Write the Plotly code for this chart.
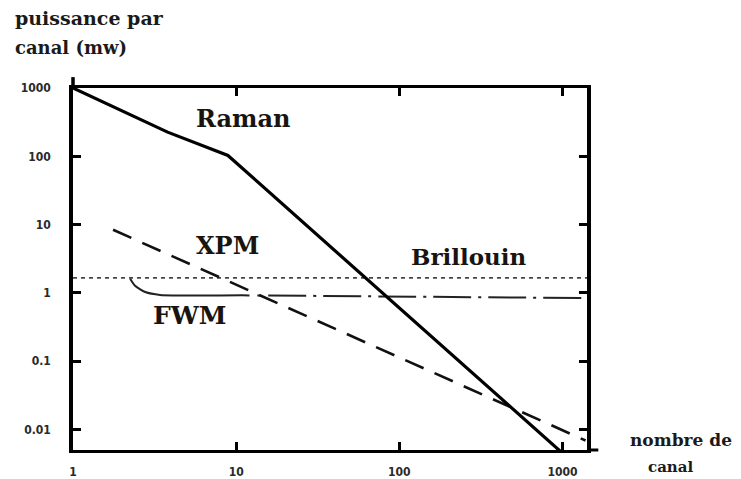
import math
import plotly.graph_objects as go

# ---- data ----
x_ticks = [1, 10, 100, 1000]
x_tick_labels = ["1", "10", "100", "1000"]
y_ticks = [0.01, 0.1, 1, 10, 100, 1000]
y_tick_labels = ["0.01", "0.1", "1", "10", "100", "1000"]

raman_x = [1, 3.8, 8.9, 970]
raman_y = [1000, 226, 103, 0.0048]

xpm_x = [1.76, 1384]
xpm_y = [8.4, 0.0069]

brillouin_x = [1, 1413]
brillouin_y = [1.66, 1.66]

fwm_x = [2.24, 2.4, 2.77, 3.42, 12.2, 1384]
fwm_y = [1.61, 1.27, 1.03, 0.935, 0.92, 0.84]

curve_labels = ["Raman", "XPM", "Brillouin", "FWM"]
curve_label_x = [11.0, 8.8, 269, 5.2]
curve_label_y = [362, 5.0, 3.4, 0.47]

y_title_lines = ["puissance par", "canal (mw)"]
x_title_lines = ["nombre de", "canal"]

# ---- styling ----
serif = "DejaVu Serif, Liberation Serif, serif"
tickfont = dict(family="DejaVu Sans Condensed, Liberation Sans Narrow, DejaVu Sans", size=12,
                color="#2a2a2a", weight="bold")

fwm_dash_parts = ["125px", "8px", "3px", "8px"] + ["38px", "7px", "3px", "7px"] * 12
fwm_dash = ",".join(fwm_dash_parts)

fig = go.Figure()

fig.add_trace(go.Scatter(x=brillouin_x, y=brillouin_y, mode="lines",
                         line=dict(color="#444444", width=1.6, dash="4px,4px"),
                         hoverinfo="skip", showlegend=False))
fig.add_trace(go.Scatter(x=fwm_x, y=fwm_y, mode="lines",
                         line=dict(color="#222222", width=2, dash=fwm_dash, shape="spline", smoothing=0.6),
                         hoverinfo="skip", showlegend=False))
fig.add_trace(go.Scatter(x=xpm_x, y=xpm_y, mode="lines",
                         line=dict(color="#111111", width=2.6, dash="20px,12px"),
                         hoverinfo="skip", showlegend=False))
fig.add_trace(go.Scatter(x=raman_x, y=raman_y, mode="lines",
                         line=dict(color="#000000", width=3.2),
                         hoverinfo="skip", showlegend=False))

# annotations on log axes take log10 positions
label_sizes = [24, 24, 23, 25]
for t, lx, ly, s in zip(curve_labels, curve_label_x, curve_label_y, label_sizes):
    fig.add_annotation(x=math.log10(lx), y=math.log10(ly), xref="x", yref="y", text=t,
                       showarrow=False, xanchor="center", yanchor="middle",
                       font=dict(family=serif, size=s, color="#1a1410", weight="bold"))

# axis titles
fig.add_annotation(x=-0.117, y=1.193, xref="paper", yref="paper", text=y_title_lines[0],
                   showarrow=False, xanchor="left", yanchor="middle",
                   font=dict(family=serif, size=19, color="#1a1a1a", weight="bold"))
fig.add_annotation(x=-0.117, y=1.113, xref="paper", yref="paper", text=y_title_lines[1],
                   showarrow=False, xanchor="left", yanchor="middle",
                   font=dict(family=serif, size=18, color="#1a1a1a", weight="bold"))
fig.add_annotation(x=1.183, y=0.028, xref="paper", yref="paper", text=x_title_lines[0],
                   showarrow=False, xanchor="center", yanchor="middle",
                   font=dict(family=serif, size=17, color="#1a1a1a", weight="bold"))
fig.add_annotation(x=1.163, y=-0.047, xref="paper", yref="paper", text=x_title_lines[1],
                   showarrow=False, xanchor="center", yanchor="middle",
                   font=dict(family=serif, size=15, color="#1a1a1a", weight="bold"))

# bottom axis extends a little past the right frame; left axis a little above the top
fig.add_shape(type="line", xref="paper", yref="paper", x0=1.0, x1=1.022, y0=0, y1=0,
              line=dict(color="black", width=3))
fig.add_shape(type="line", xref="paper", yref="paper", x0=0, x1=0, y0=1.0, y1=1.03,
              line=dict(color="black", width=3.5))

fig.update_xaxes(type="log", range=[0, 3.15], tickvals=x_ticks, ticktext=x_tick_labels,
                 ticks="inside", ticklen=8, tickwidth=3, tickcolor="black",
                 showline=True, linewidth=3, linecolor="black", mirror="ticks",
                 showgrid=False, zeroline=False, tickfont=tickfont, ticklabelstandoff=9,
                 automargin=False)
fig.update_yaxes(type="log", range=[-2.3, 3], tickvals=y_ticks, ticktext=y_tick_labels,
                 ticks="inside", ticklen=8, tickwidth=3, tickcolor="black",
                 showline=True, linewidth=3.5, linecolor="black", mirror="ticks",
                 showgrid=False, zeroline=False, tickfont=tickfont, ticklabelstandoff=16,
                 automargin=False)

# page body has an 8px margin, so the figure is sized to fit the 741x479 window
fig.update_layout(width=733, height=471, margin=dict(l=65, r=154, t=80, b=29),
                  paper_bgcolor="white", plot_bgcolor="white", showlegend=False)

fig.write_html("out.html")
